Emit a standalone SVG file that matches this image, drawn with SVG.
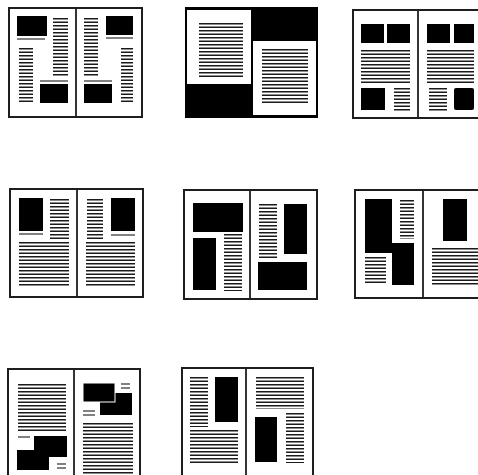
<svg xmlns="http://www.w3.org/2000/svg" width="478" height="475" viewBox="0 0 478 475">
<style>
.fr{fill:#fff;stroke:#1e1e1e;stroke-width:2}
.dv{stroke:#1e1e1e;stroke-width:1.8}
.bx{fill:#000}
.t{stroke:#1a1a1a;stroke-dasharray:1.5 2;fill:none}
.c{stroke:#1a1a1a;stroke-width:1.1}
</style>
<rect width="478" height="475" fill="#fff"/>

<g id="spread1">
<rect class="fr" x="9" y="8" width="133" height="109"/>
<line class="dv" x1="76" y1="8" x2="76" y2="117"/>
<rect class="bx" x="17" y="16" width="30" height="20"/>
<line class="c" x1="17" y1="39" x2="45" y2="39"/>
<line class="t" x1="60.5" y1="18" x2="60.5" y2="77" stroke-width="15"/>
<line class="t" x1="26" y1="48" x2="26" y2="104" stroke-width="14"/>
<line class="c" x1="40" y1="81" x2="68" y2="81"/>
<rect class="bx" x="40" y="84" width="28" height="19"/>
<line class="t" x1="91" y1="18" x2="91" y2="77" stroke-width="14"/>
<rect class="bx" x="106" y="16" width="27" height="19"/>
<line class="c" x1="106" y1="38" x2="133" y2="38"/>
<line class="t" x1="127" y1="48" x2="127" y2="104" stroke-width="12"/>
<line class="c" x1="84" y1="81" x2="112" y2="81"/>
<rect class="bx" x="84" y="84" width="28" height="19"/>
</g>

<g id="spread2">
<rect x="185" y="7" width="133" height="111" fill="#000"/>
<rect x="187" y="10" width="64" height="74" fill="#fff"/>
<line class="t" x1="221" y1="23" x2="221" y2="78" stroke-width="44"/>
<rect x="253" y="41" width="63" height="74" fill="#fff"/>
<line class="t" x1="285" y1="49" x2="285" y2="104" stroke-width="46"/>
</g>

<g id="spread3">
<rect class="fr" x="353" y="10" width="130" height="108"/>
<line class="dv" x1="418" y1="10" x2="418" y2="118"/>
<rect class="bx" x="361" y="24" width="23" height="19"/>
<rect class="bx" x="387" y="24" width="23" height="19"/>
<line class="t" x1="385.5" y1="50" x2="385.5" y2="83" stroke-width="49"/>
<rect class="bx" x="361" y="88" width="24" height="22"/>
<line class="t" x1="402" y1="88" x2="402" y2="111" stroke-width="16"/>
<rect class="bx" x="427" y="24" width="23" height="19"/>
<rect class="bx" x="454" y="24" width="20" height="19"/>
<line class="t" x1="450.5" y1="50" x2="450.5" y2="83" stroke-width="47"/>
<line class="t" x1="438" y1="88" x2="438" y2="111" stroke-width="18"/>
<rect class="bx" x="454" y="88" width="20" height="22" rx="2"/>
</g>

<g id="spread4">
<rect class="fr" x="10" y="189" width="133" height="108"/>
<line class="dv" x1="77" y1="189" x2="77" y2="297"/>
<rect class="bx" x="19" y="198" width="24" height="33"/>
<line class="c" x1="19" y1="234" x2="43" y2="234"/>
<line class="t" x1="59.5" y1="199" x2="59.5" y2="240" stroke-width="19"/>
<line class="t" x1="44" y1="242" x2="44" y2="286" stroke-width="50"/>
<line class="t" x1="95" y1="199" x2="95" y2="240" stroke-width="16"/>
<rect class="bx" x="111" y="198" width="24" height="33"/>
<line class="c" x1="111" y1="235" x2="135" y2="235"/>
<line class="t" x1="110.5" y1="242" x2="110.5" y2="286" stroke-width="49"/>
</g>

<g id="spread5">
<rect class="fr" x="184" y="190" width="133" height="109"/>
<line class="dv" x1="250" y1="190" x2="250" y2="299"/>
<rect class="bx" x="193" y="203" width="50" height="29"/>
<rect class="bx" x="193" y="238" width="23" height="52"/>
<line class="t" x1="233" y1="234" x2="233" y2="291" stroke-width="18"/>
<line class="t" x1="268" y1="204" x2="268" y2="260" stroke-width="18"/>
<rect class="bx" x="284" y="204" width="23" height="50"/>
<rect class="bx" x="258" y="262" width="49" height="28"/>
</g>

<g id="spread6">
<rect class="fr" x="355" y="190" width="130" height="108"/>
<line class="dv" x1="423" y1="190" x2="423" y2="298"/>
<path class="bx" d="M365 199H392V243H414V285H392V253H365Z"/>
<line class="t" x1="407" y1="200" x2="407" y2="239" stroke-width="14"/>
<line class="t" x1="375.5" y1="257" x2="375.5" y2="285" stroke-width="21"/>
<rect class="bx" x="443" y="199" width="24" height="42"/>
<line class="t" x1="456" y1="248" x2="456" y2="285" stroke-width="48"/>
</g>

<g id="spread7">
<rect class="fr" x="8" y="369" width="132" height="112"/>
<line class="dv" x1="74" y1="369" x2="74" y2="481"/>
<line class="t" x1="42" y1="384" x2="42" y2="431" stroke-width="48"/>
<line class="c" x1="18" y1="437" x2="30" y2="437"/>
<rect class="bx" x="17" y="450" width="32" height="20"/>
<rect class="bx" x="34" y="436" width="33" height="21"/>
<line class="c" x1="57" y1="464" x2="66" y2="464"/>
<line class="c" x1="57" y1="468" x2="66" y2="468"/>
<rect class="bx" x="100" y="393" width="32" height="22"/>
<rect class="bx" x="83" y="383" width="32" height="19" stroke="#fff" stroke-width="1"/>
<line class="c" x1="121" y1="384" x2="130" y2="384"/>
<line class="c" x1="121" y1="388" x2="130" y2="388"/>
<line class="c" x1="83" y1="411" x2="95" y2="411"/>
<line class="c" x1="83" y1="415" x2="95" y2="415"/>
<line class="t" x1="108" y1="423" x2="108" y2="475" stroke-width="50"/>
</g>

<g id="spread8">
<rect class="fr" x="182" y="368" width="131" height="113"/>
<line class="dv" x1="246" y1="368" x2="246" y2="481"/>
<rect class="bx" x="215" y="377" width="23" height="45"/>
<line class="t" x1="199" y1="377" x2="199" y2="427" stroke-width="18"/>
<line class="t" x1="214" y1="430" x2="214" y2="464" stroke-width="48"/>
<line class="t" x1="280" y1="377" x2="280" y2="409" stroke-width="48"/>
<rect class="bx" x="255" y="417" width="22" height="45"/>
<line class="t" x1="295" y1="413" x2="295" y2="463" stroke-width="18"/>
</g>
</svg>
